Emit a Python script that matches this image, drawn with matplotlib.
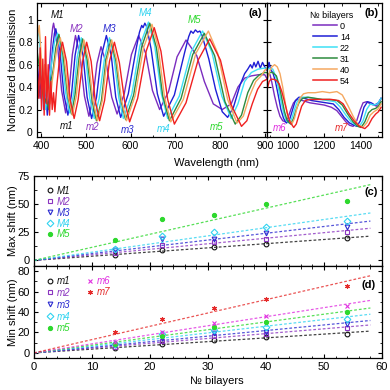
import numpy as np
import matplotlib
matplotlib.use('Agg')
import matplotlib.pyplot as plt
from matplotlib.lines import Line2D
from matplotlib.ticker import MultipleLocator

plt.rcParams['font.family'] = ['Liberation Sans', 'DejaVu Sans']
plt.rcParams['mathtext.default'] = 'regular'

# ---------------- spectra (wavelength nm, normalized transmission) ----------------
bilayers = ['0', '14', '22', '31', '40', '54']
spec_colors = ['#7B2CBF', '#1F1FD6', '#3FE0F5', '#2E8B3E', '#F5A860', '#F02020']

spec_0 = [(392,0.45),(398,0.30),(404,0.50),(409,0.25),(414,0.35),(419,0.60),(423,0.82),(426,0.93),(428,0.97),(437,0.77),(446,0.37),(455,0.17),(462,0.34),(470,0.69),(477,0.86),(487,0.68),(497,0.32),(507,0.14),(516,0.30),(525,0.61),(534,0.76),(546,0.61),(558,0.31),(570,0.16),(586,0.34),(602,0.69),(618,0.86),(634,0.70),(649,0.37),(665,0.20),(685,0.36),(704,0.67),(724,0.82),(748,0.68),(765,0.45),(785,0.25),(805,0.20),(825,0.25),(840,0.40),(855,0.48),(870,0.50),(885,0.51),(900,0.51),(910,0.44),(925,0.32),(940,0.22),(955,0.14),(970,0.10),(985,0.09),(1000,0.13),(1015,0.20),(1030,0.26),(1050,0.29),(1080,0.28),(1120,0.26),(1160,0.25),(1200,0.24),(1240,0.22),(1270,0.19),(1295,0.14),(1320,0.09),(1340,0.06),(1360,0.05),(1380,0.10),(1400,0.20),(1415,0.26),(1435,0.27),(1455,0.25),(1475,0.24),(1490,0.23),(1505,0.27),(1515,0.30)]

spec_14 = [(392,0.60),(397,0.35),(402,0.50),(406,0.20),(410,0.42),(414,0.15),(418,0.30),(422,0.55),(426,0.75),(430,0.88),(433,0.92),(442,0.73),(451,0.34),(460,0.15),(468,0.33),(476,0.68),(484,0.86),(494,0.68),(503,0.31),(513,0.12),(524,0.31),(535,0.68),(546,0.86),(557,0.68),(567,0.31),(578,0.13),(595,0.34),(613,0.75),(620,0.89),(625,0.95),(628,0.93),(632,0.97),(636,0.94),(646,0.74),(660,0.34),(674,0.14),(698,0.33),(721,0.71),(730,0.85),(735,0.90),(740,0.88),(745,0.91),(750,0.89),(755,0.90),(760,0.86),(775,0.65),(790,0.38),(805,0.18),(817,0.13),(830,0.22),(845,0.42),(855,0.52),(862,0.56),(868,0.60),(872,0.57),(876,0.62),(880,0.58),(885,0.63),(890,0.57),(895,0.62),(900,0.58),(905,0.55),(915,0.53),(930,0.45),(945,0.33),(960,0.20),(975,0.12),(990,0.08),(1000,0.09),(1010,0.12),(1025,0.20),(1040,0.28),(1060,0.31),(1090,0.30),(1130,0.28),(1170,0.27),(1210,0.26),(1250,0.25),(1280,0.20),(1310,0.13),(1340,0.08),(1365,0.06),(1381,0.05),(1400,0.10),(1420,0.22),(1440,0.27),(1460,0.26),(1480,0.24),(1500,0.26),(1515,0.30)]

spec_22 = [(392,0.90),(396,0.85),(400,0.60),(405,0.30),(410,0.20),(415,0.35),(420,0.50),(425,0.65),(430,0.80),(437,0.88),(446,0.70),(455,0.35),(464,0.17),(473,0.34),(481,0.67),(490,0.84),(500,0.66),(509,0.30),(519,0.12),(530,0.30),(542,0.66),(553,0.84),(563,0.66),(574,0.30),(584,0.12),(603,0.34),(621,0.77),(640,0.98),(654,0.77),(669,0.34),(683,0.12),(709,0.32),(735,0.71),(761,0.90),(782,0.71),(804,0.32),(825,0.12),(840,0.25),(855,0.45),(870,0.53),(885,0.56),(900,0.57),(915,0.56),(930,0.50),(945,0.40),(960,0.28),(975,0.17),(990,0.10),(1006,0.08),(1020,0.12),(1035,0.20),(1050,0.27),(1070,0.31),(1100,0.31),(1140,0.30),(1180,0.29),(1220,0.28),(1260,0.27),(1290,0.22),(1320,0.15),(1350,0.09),(1375,0.06),(1395,0.05),(1415,0.10),(1435,0.20),(1455,0.25),(1475,0.24),(1495,0.25),(1515,0.30)]

spec_31 = [(392,0.70),(397,0.55),(402,0.40),(407,0.25),(412,0.30),(417,0.20),(422,0.45),(427,0.55),(433,0.75),(440,0.87),(449,0.69),(459,0.34),(468,0.16),(476,0.33),(485,0.66),(493,0.83),(503,0.65),(514,0.28),(524,0.10),(535,0.28),(545,0.64),(556,0.82),(567,0.64),(578,0.29),(589,0.11),(607,0.33),(625,0.76),(643,0.97),(658,0.75),(672,0.32),(687,0.10),(713,0.30),(739,0.69),(765,0.88),(788,0.68),(811,0.27),(834,0.07),(848,0.15),(862,0.35),(875,0.46),(888,0.51),(900,0.53),(915,0.53),(935,0.50),(950,0.42),(965,0.30),(980,0.18),(995,0.10),(1014,0.07),(1030,0.12),(1045,0.20),(1060,0.26),(1080,0.30),(1110,0.31),(1150,0.30),(1190,0.29),(1230,0.29),(1270,0.28),(1300,0.24),(1330,0.16),(1360,0.09),(1385,0.05),(1404,0.04),(1425,0.09),(1445,0.17),(1465,0.20),(1485,0.21),(1500,0.23),(1515,0.27)]

spec_40 = [(392,0.85),(396,0.95),(400,0.70),(404,0.45),(408,0.60),(412,0.30),(416,0.50),(420,0.25),(425,0.45),(430,0.60),(436,0.76),(443,0.84),(452,0.67),(461,0.32),(470,0.15),(479,0.32),(487,0.65),(496,0.82),(506,0.64),(516,0.28),(526,0.10),(537,0.28),(547,0.64),(558,0.82),(569,0.64),(580,0.28),(591,0.10),(610,0.32),(629,0.75),(648,0.96),(662,0.75),(676,0.31),(690,0.09),(718,0.29),(746,0.70),(774,0.90),(795,0.70),(817,0.29),(838,0.08),(852,0.14),(866,0.32),(880,0.45),(892,0.50),(900,0.55),(910,0.58),(925,0.60),(940,0.58),(955,0.52),(970,0.40),(985,0.25),(1000,0.13),(1021,0.07),(1035,0.12),(1050,0.22),(1065,0.30),(1085,0.34),(1110,0.35),(1150,0.35),(1190,0.36),(1230,0.35),(1270,0.36),(1300,0.33),(1330,0.24),(1360,0.14),(1385,0.07),(1413,0.04),(1435,0.08),(1455,0.15),(1475,0.18),(1495,0.20),(1515,0.25)]

spec_54 = [(392,0.50),(395,0.30),(398,0.75),(401,0.20),(404,0.65),(407,0.15),(410,0.85),(413,0.25),(416,0.60),(419,0.15),(422,0.45),(425,0.20),(428,0.35),(431,0.18),(435,0.40),(440,0.60),(444,0.74),(448,0.80),(457,0.63),(465,0.29),(474,0.12),(483,0.29),(493,0.63),(502,0.80),(512,0.63),(521,0.28),(531,0.10),(542,0.28),(553,0.63),(564,0.80),(575,0.62),(587,0.27),(598,0.09),(616,0.30),(635,0.72),(653,0.93),(668,0.72),(683,0.29),(698,0.07),(724,0.26),(751,0.64),(777,0.83),(801,0.64),(824,0.25),(848,0.05),(860,0.10),(872,0.25),(884,0.38),(895,0.45),(905,0.47),(920,0.47),(935,0.46),(950,0.43),(965,0.36),(980,0.27),(995,0.17),(1010,0.09),(1031,0.04),(1045,0.07),(1060,0.15),(1075,0.23),(1095,0.28),(1120,0.29),(1160,0.29),(1200,0.29),(1240,0.29),(1280,0.28),(1305,0.25),(1335,0.17),(1365,0.10),(1395,0.05),(1425,0.03),(1445,0.06),(1465,0.12),(1485,0.16),(1500,0.18),(1515,0.22)]

spectra = [spec_0, spec_14, spec_22, spec_31, spec_40, spec_54]

# peak / dip annotations in panels (a) and (b)
peak_labels = ['M1', 'M2', 'M3', 'M4', 'M5']
peak_label_pos = [(436, 1.045), (480, 0.915), (553, 0.915), (634, 1.06), (742, 1.0)]
dip_labels_a = ['m1', 'm2', 'm3', 'm4', 'm5']
dip_label_pos_a = [(457, 0.055), (516, 0.04), (593, 0.02), (674, 0.025), (792, 0.045)]
dip_labels_b = ['m6', 'm7']
dip_label_pos_b = [(955, 0.035), (1295, 0.035)]

# ---------------- shifts vs number of bilayers ----------------
n_bilayers = [14, 22, 31, 40, 54]
max_names = ['M1', 'M2', 'M3', 'M4', 'M5']
max_M1 = [5.0, 9.0, 11.8, 14.7, 19.7]
max_M2 = [7.0, 13.5, 16.5, 19.4, 25.0]
max_M3 = [9.0, 19.0, 19.4, 24.4, 29.4]
max_M4 = [9.7, 22.0, 25.0, 29.7, 35.0]
max_M5 = [17.7, 36.8, 40.6, 49.7, 52.7]
min_names = ['m1', 'm2', 'm3', 'm4', 'm5', 'm6', 'm7']
min_m1 = [4.5, 8.8, 12.7, 15.3, 18.5]
min_m2 = [6.2, 12.0, 16.6, 18.5, 24.0]
min_m3 = [8.0, 14.3, 19.2, 20.8, 28.0]
min_m4 = [8.8, 18.5, 22.4, 25.0, 33.2]
min_m5 = [8.8, 16.6, 25.7, 30.0, 40.3]
min_m6 = [11.0, 20.8, 29.0, 36.4, 46.0]
min_m7 = [20.8, 33.2, 43.6, 52.7, 65.4]

c_black, c_purple, c_blue, c_cyan, c_green = '#111111', '#8B35C0', '#2B2BD0', '#2FD3F0', '#2ED82E'
c_magenta, c_red = '#E030E0', '#E52A2A'
max_series = [max_M1, max_M2, max_M3, max_M4, max_M5]
max_colors = [c_black, c_purple, c_blue, c_cyan, c_green]
min_series = [min_m1, min_m2, min_m3, min_m4, min_m5, min_m6, min_m7]
min_colors = [c_black, c_purple, c_blue, c_cyan, c_green, c_magenta, c_red]
markers = ['o', 's', 'v', 'D', 'o', 'x', (6, 2, 0)]
filled = [False, False, False, False, True, True, True]

# ---------------- figure ----------------
W = 390.0
fig = plt.figure(figsize=(3.9, 3.9), dpi=100)

def frac(l, t, r, b):
    return [l / W, 1 - b / W, (r - l) / W, (b - t) / W]

ax_a = fig.add_axes(frac(37, 3, 267, 137))
ax_b = fig.add_axes(frac(267, 3, 382, 137))
ax_c = fig.add_axes(frac(34, 176, 382, 266))
ax_d = fig.add_axes(frac(34, 266, 382, 358))

LFS = 8          # axis label font size
TFS_TOP = 7.5    # tick label size, top panels
TFS_BOT = 8      # tick label size, bottom panels
for ax, tfs in ((ax_a, TFS_TOP), (ax_b, TFS_TOP), (ax_c, TFS_BOT), (ax_d, TFS_BOT)):
    ax.tick_params(direction='in', top=True, right=True, labelsize=tfs, length=3, width=0.8,
                   pad=3)
    ax.tick_params(which='minor', direction='in', top=True, right=True, length=1.8, width=0.6)
    for s in ax.spines.values():
        s.set_linewidth(0.9)

for ax in (ax_a, ax_b):
    for spec, col in zip(spectra, spec_colors):
        wl = [p[0] for p in spec]
        tr = [p[1] for p in spec]
        ax.plot(wl, tr, color=col, lw=1.0)
    ax.set_ylim(-0.045, 1.15)

ax_a.set_xlim(391, 905)
ax_a.set_xticks([400, 500, 600, 700, 800, 900])
ax_a.xaxis.set_minor_locator(MultipleLocator(50))
ax_a.set_yticks([0, 0.2, 0.4, 0.6, 0.8, 1.0])
ax_a.set_yticklabels(['0', '0.2', '0.4', '0.6', '0.8', '1'])
ax_a.set_ylabel('Normalized transmission', fontsize=LFS)
ax_a.yaxis.set_label_coords(-0.083, 0.5)

ax_b.set_xlim(883, 1520)
ax_b.set_xticks([1000, 1200, 1400])
ax_b.xaxis.set_minor_locator(MultipleLocator(100))
ax_b.set_yticks([0, 0.2, 0.4, 0.6, 0.8, 1.0])
ax_b.tick_params(labelleft=False)

fig.text(217 / W, 1 - 163 / W, 'Wavelength (nm)', ha='center', va='center', fontsize=LFS)

AFS = 7
for lab, (x, y), col in zip(peak_labels, peak_label_pos, max_colors):
    ax_a.text(x, y, lab, color=col, fontsize=AFS, fontstyle='italic', ha='center', va='center')
for lab, (x, y), col in zip(dip_labels_a, dip_label_pos_a, min_colors[:5]):
    ax_a.text(x, y, lab, color=col, fontsize=AFS, fontstyle='italic', ha='center', va='center')
for lab, (x, y), col in zip(dip_labels_b, dip_label_pos_b, min_colors[5:]):
    ax_b.text(x, y, lab, color=col, fontsize=AFS, fontstyle='italic', ha='center', va='center')

ax_a.text(0.947, 0.925, '(a)', transform=ax_a.transAxes, fontsize=LFS, fontweight='bold',
          ha='center', va='center')
ax_b.text(0.91, 0.925, '(b)', transform=ax_b.transAxes, fontsize=LFS, fontweight='bold',
          ha='center', va='center')

handles = [Line2D([], [], color=c, lw=1.1) for c in spec_colors]
leg = ax_b.legend(handles, bilayers, title='№ bilayers', loc='upper left',
                  bbox_to_anchor=(0.32, 0.99), frameon=False, fontsize=6.5,
                  title_fontsize=6.5, handlelength=2.6, handletextpad=0.35,
                  labelspacing=0.22, borderpad=0.2)

# ---------------- (c) and (d) ----------------
x_fit = np.array([0.0, 58.0])
nx = np.array(n_bilayers, dtype=float)

def draw_shift(ax, series, colors, names, mk, fl):
    hs = []
    for ys, col, nm, m, f in zip(series, colors, names, mk, fl):
        ya = np.array(ys)
        slope = np.sum(nx * ya) / np.sum(nx * nx)
        ax.plot(x_fit, slope * x_fit, ls=(0, (2.2, 1.6)), lw=0.9, color=col, alpha=0.8)
        h, = ax.plot(nx, ya, ls='none', marker=m, ms=3.4 if not (m == 'o' and f) else 3.0,
                     mec=col, mfc=col if f else 'none', mew=0.8, color=col)
        hs.append(h)
    return hs

hc = draw_shift(ax_c, max_series, max_colors, max_names, markers[:5], filled[:5])
hd = draw_shift(ax_d, min_series, min_colors, min_names, markers, filled)

for ax in (ax_c, ax_d):
    ax.set_xlim(0, 60)
    ax.xaxis.set_major_locator(MultipleLocator(10))
    ax.xaxis.set_minor_locator(MultipleLocator(2))

ax_c.set_ylim(-5, 75)
ax_c.set_yticks([0, 25, 50, 75])
ax_c.yaxis.set_minor_locator(MultipleLocator(12.5))
ax_c.tick_params(labelbottom=False)
ax_c.set_ylabel('Max shift (nm)', fontsize=LFS)
ax_c.yaxis.set_label_coords(-0.046, 0.5)

ax_d.set_ylim(-5, 85)
ax_d.set_yticks([0, 20, 40, 60, 80])
ax_d.yaxis.set_minor_locator(MultipleLocator(10))
ax_d.set_ylabel('Min shift (nm)', fontsize=LFS)
ax_d.yaxis.set_label_coords(-0.046, 0.5)
ax_d.set_xlabel('№ bilayers', fontsize=LFS)
ax_d.xaxis.set_label_coords(0.526, -0.2)

legkw = dict(frameon=False, handlelength=0.7, handletextpad=0.3, borderpad=0.1,
             prop={'style': 'italic', 'size': 7})
lc = ax_c.legend(hc, max_names, loc='upper left', bbox_to_anchor=(0.02, 0.955),
                 labelcolor=max_colors, labelspacing=0.09, **legkw)
ld1 = ax_d.legend(hd[:5], min_names[:5], loc='upper left', bbox_to_anchor=(0.02, 0.955),
                  labelcolor=min_colors[:5], labelspacing=0.19, **legkw)
ax_d.add_artist(ld1)
ld2 = ax_d.legend(hd[5:], min_names[5:], loc='upper left', bbox_to_anchor=(0.135, 0.955),
                  labelcolor=min_colors[5:], labelspacing=0.12, **legkw)

ax_c.text(0.97, 0.82, '(c)', transform=ax_c.transAxes, fontsize=LFS, fontweight='bold',
          ha='center', va='center')
ax_d.text(0.96, 0.79, '(d)', transform=ax_d.transAxes, fontsize=LFS, fontweight='bold',
          ha='center', va='center')

fig.savefig('out.png', dpi=100)
